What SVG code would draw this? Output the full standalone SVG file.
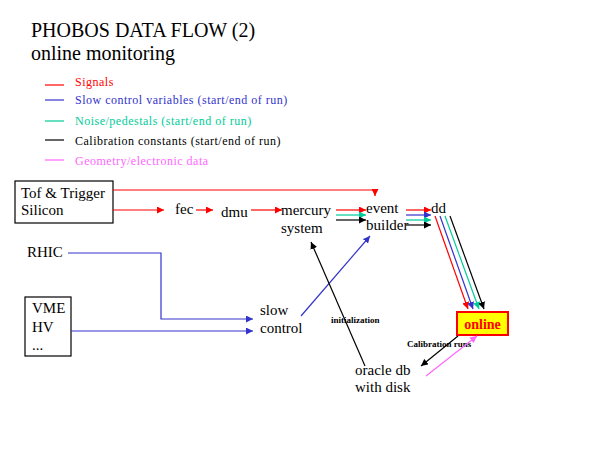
<svg xmlns="http://www.w3.org/2000/svg" width="600" height="450" viewBox="0 0 600 450">
<style>
text{font-family:"Liberation Serif","Times New Roman",serif;fill:#000}
.t{font-size:20px}
.lg{font-size:12px;letter-spacing:0.5px}
.n{font-size:15px}
.s{font-size:9px;font-weight:bold}
.r{stroke:#FF0000}.b{stroke:#3333CC}.g{stroke:#00CC99}.k{stroke:#000}.m{stroke:#FF66FF}
#connectors line,#connectors polyline,#legend line{fill:none;stroke-width:1.2}
.box{fill:#fff;stroke:#000;stroke-width:1.2}
.thin{stroke-width:1}
</style>
<defs>
<marker id="ar" viewBox="0 0 10 10" refX="10" refY="5" markerWidth="7" markerHeight="7" markerUnits="userSpaceOnUse" orient="auto"><path d="M0,0L10,5L0,10z" style="fill:#FF0000;stroke:none"/></marker>
<marker id="ab" viewBox="0 0 10 10" refX="10" refY="5" markerWidth="7" markerHeight="7" markerUnits="userSpaceOnUse" orient="auto"><path d="M0,0L10,5L0,10z" style="fill:#3333CC;stroke:none"/></marker>
<marker id="ag" viewBox="0 0 10 10" refX="10" refY="5" markerWidth="7" markerHeight="7" markerUnits="userSpaceOnUse" orient="auto"><path d="M0,0L10,5L0,10z" style="fill:#00CC99;stroke:none"/></marker>
<marker id="ak" viewBox="0 0 10 10" refX="10" refY="5" markerWidth="7" markerHeight="7" markerUnits="userSpaceOnUse" orient="auto"><path d="M0,0L10,5L0,10z" style="fill:#000;stroke:none"/></marker>
<marker id="am" viewBox="0 0 10 10" refX="10" refY="5" markerWidth="7" markerHeight="7" markerUnits="userSpaceOnUse" orient="auto"><path d="M0,0L10,5L0,10z" style="fill:#FF66FF;stroke:none"/></marker>
</defs>
<rect width="600" height="450" fill="#fff"/>
<g id="title">
<text class="t" x="31" y="37">PHOBOS DATA FLOW (2)</text>
<text class="t" x="31" y="60">online monitoring</text>
</g>
<g id="legend">
<line class="r" x1="45" y1="85" x2="64" y2="85"/>
<text class="lg" x="75" y="86" style="fill:#FF0000">Signals</text>
<line class="b" x1="45" y1="100" x2="64" y2="100"/>
<text class="lg" x="75" y="104" style="fill:#3333CC">Slow control variables (start/end of run)</text>
<line class="g" x1="45" y1="121" x2="64" y2="121"/>
<text class="lg" x="75" y="125" style="fill:#00CC99">Noise/pedestals (start/end of run)</text>
<line class="k" x1="45" y1="140" x2="64" y2="140"/>
<text class="lg" x="75" y="145">Calibration constants (start/end of run)</text>
<line class="m" x1="45" y1="160" x2="64" y2="160"/>
<text class="lg" x="75" y="165" style="fill:#FF66FF">Geometry/electronic data</text>
</g>
<g id="tof">
<rect class="box" x="15" y="181" width="98" height="42"/>
<text class="n" x="21" y="198">Tof &amp; Trigger</text>
<text class="n" x="21" y="215">Silicon</text>
</g>
<g id="fec"><text class="n" x="175" y="214">fec</text></g>
<g id="dmu"><text class="n" x="221" y="217">dmu</text></g>
<g id="mercury"><text class="n" x="281" y="215">mercury</text><text class="n" x="281" y="233">system</text></g>
<g id="event"><text class="n" x="366" y="213">event</text><text class="n" x="366" y="230">builder</text></g>
<g id="dd"><text class="n" x="431" y="213">dd</text></g>
<g id="rhic"><text class="n" x="27" y="257">RHIC</text></g>
<g id="vme">
<rect class="box" x="25" y="297" width="46" height="59"/>
<text class="n" x="32" y="313">VME</text>
<text class="n" x="32" y="332">HV</text>
<text class="n" x="32" y="350">...</text>
</g>
<g id="slow"><text class="n" x="260" y="315">slow</text><text class="n" x="260" y="333">control</text></g>
<g id="online">
<rect x="457" y="312" width="51" height="23" fill="#FFFF00" stroke="#FF0000" stroke-width="2"/>
<text x="482.5" y="329" text-anchor="middle" style="font-size:14px;font-weight:bold;fill:#FF0000">online</text>
</g>
<g id="oracle"><text class="n" x="355" y="375">oracle db</text><text class="n" x="355" y="392">with disk</text></g>
<g id="labels">
<text class="s" x="331" y="323">initialization</text>
<text class="s" x="407" y="347">Calibration runs</text>
</g>
<g id="connectors">
<polyline class="r" points="113,190 375,190 375,196" marker-end="url(#ar)"/>
<line class="r" x1="113" y1="210" x2="164" y2="210" marker-end="url(#ar)"/>
<line class="r" x1="196" y1="210" x2="213" y2="210" marker-end="url(#ar)"/>
<line class="r" x1="251" y1="210" x2="282" y2="210" marker-end="url(#ar)"/>
<line class="r" x1="336" y1="210" x2="366" y2="210" marker-end="url(#ar)"/>
<line class="g" x1="336" y1="215" x2="366" y2="215" marker-end="url(#ag)"/>
<line class="k" x1="336" y1="220" x2="366" y2="220" marker-end="url(#ak)"/>
<line class="r" x1="406" y1="210" x2="431" y2="210" marker-end="url(#ar)"/>
<line class="b" x1="406" y1="215" x2="431" y2="215" marker-end="url(#ab)"/>
<line class="g" x1="406" y1="220" x2="431" y2="220" marker-end="url(#ag)"/>
<line class="k" x1="406" y1="225" x2="431" y2="225" marker-end="url(#ak)"/>
<line class="r" x1="435" y1="216" x2="468" y2="309" marker-end="url(#ar)"/>
<line class="b" x1="440" y1="216" x2="473" y2="309" marker-end="url(#ab)"/>
<line class="g" x1="445" y1="216" x2="479" y2="309" marker-end="url(#ag)"/>
<line class="k" x1="450" y1="216" x2="484" y2="309" marker-end="url(#ak)"/>
<polyline class="b" points="68,253 161,253 161,319 253,319" marker-end="url(#ab)"/>
<line class="b" x1="71" y1="331" x2="253" y2="331" marker-end="url(#ab)"/>
<line class="b thin" x1="301" y1="316" x2="370" y2="236" marker-end="url(#ab)"/>
<line class="k thin" x1="365" y1="366" x2="311" y2="242" marker-end="url(#ak)"/>
<line class="k thin" x1="458" y1="336" x2="421" y2="366" marker-end="url(#ak)"/>
<line class="m thin" x1="426" y1="376" x2="477" y2="336" marker-end="url(#am)"/>
</g>
</svg>
